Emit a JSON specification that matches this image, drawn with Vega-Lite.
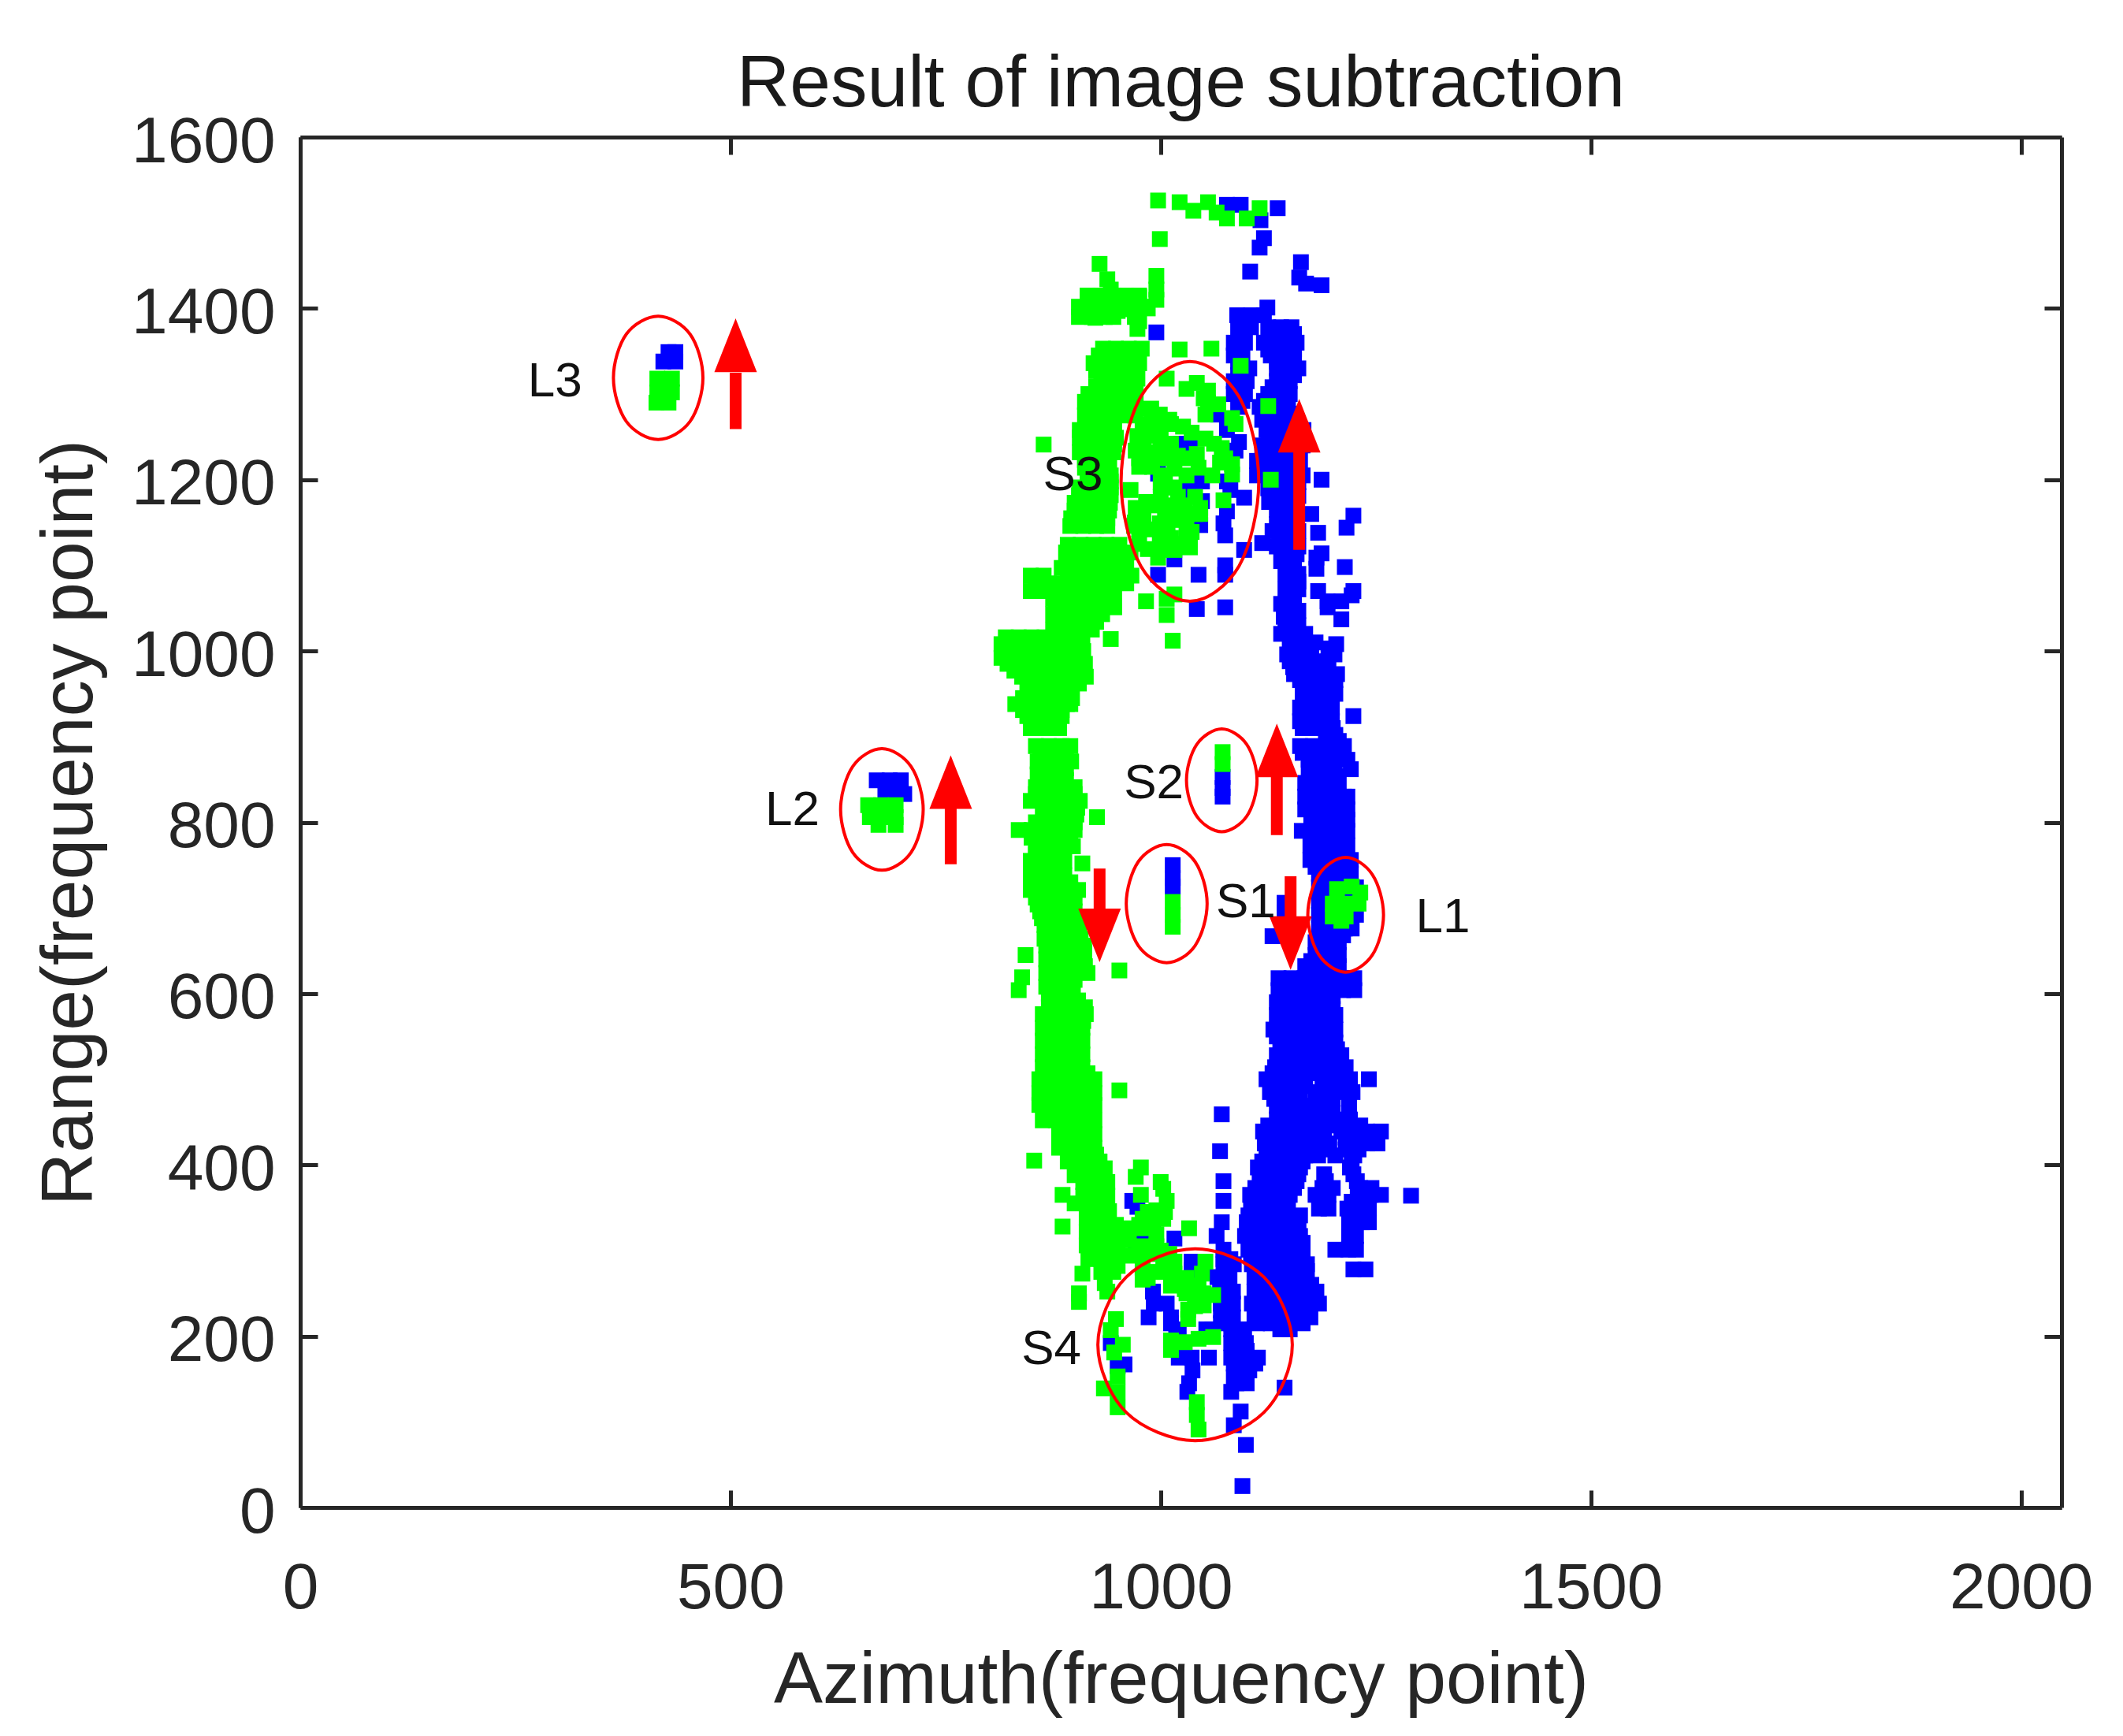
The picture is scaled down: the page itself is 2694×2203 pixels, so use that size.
{"$schema":"https://vega.github.io/schema/vega-lite/v6.json","width":2235,"height":1739,"autosize":{"type":"none"},"padding":{"left":381,"top":174,"right":78,"bottom":290},"background":"white","title":{"text":"Result of image subtraction","fontSize":93,"font":"Liberation Sans","fontWeight":"normal","color":"#1a1a1a","anchor":"middle","offset":-16,"limit":0},"config":{"view":{"stroke":null},"axis":{"grid":false,"domainColor":"#262626","domainWidth":5,"tickColor":"#262626","tickWidth":5,"tickSize":-22,"labelFont":"Liberation Sans","labelFontSize":82,"labelColor":"#262626","labelFlush":false,"labelOverlap":false,"labelLimit":1000,"titleFont":"Liberation Sans","titleFontSize":93,"titleFontWeight":"normal","titleColor":"#262626","titleLimit":2000,"format":"d"}},"datasets":{
"blue":[{"x":1077,"y":1521},{"x":1093,"y":1521},{"x":1136,"y":1517},{"x":1116,"y":1503},{"x":1120,"y":1482},{"x":1115,"y":1471},{"x":1163,"y":1454},{"x":1161,"y":1436},{"x":1169,"y":1429},{"x":1187,"y":1427},{"x":1104,"y":1443},{"x":995,"y":1372},{"x":1124,"y":1401},{"x":1089,"y":1392},{"x":1105,"y":1392},{"x":1120,"y":1392},{"x":1090,"y":1378},{"x":1105,"y":1378},{"x":1125,"y":1378},{"x":1140,"y":1378},{"x":1152,"y":1378},{"x":1085,"y":1360},{"x":1098,"y":1360},{"x":1120,"y":1360},{"x":1135,"y":1360},{"x":1150,"y":1360},{"x":1158,"y":1360},{"x":1085,"y":1345},{"x":1095,"y":1345},{"x":1128,"y":1345},{"x":1142,"y":1345},{"x":1155,"y":1345},{"x":1092,"y":1330},{"x":1103,"y":1330},{"x":1135,"y":1330},{"x":1150,"y":1330},{"x":1160,"y":1330},{"x":1085,"y":1315},{"x":1100,"y":1315},{"x":1135,"y":1315},{"x":1150,"y":1315},{"x":1085,"y":1300},{"x":1098,"y":1300},{"x":1125,"y":1300},{"x":1140,"y":1300},{"x":1150,"y":1300},{"x":1090,"y":1285},{"x":1115,"y":1285},{"x":1130,"y":1285},{"x":1145,"y":1285},{"x":1118,"y":1270},{"x":1135,"y":1270},{"x":1150,"y":1270},{"x":1067,"y":1276},{"x":1077,"y":1258},{"x":1091,"y":1244},{"x":1087,"y":1234},{"x":1024,"y":1242},{"x":1034,"y":1242},{"x":997,"y":1207},{"x":1032,"y":1198},{"x":1048,"y":1198},{"x":1077,"y":1198},{"x":1032,"y":1184},{"x":1081,"y":1188},{"x":1097,"y":1179},{"x":1048,"y":1175},{"x":1077,"y":1163},{"x":1046,"y":1147},{"x":1073,"y":1149},{"x":1075,"y":1135},{"x":1097,"y":1118},{"x":1118,"y":1126},{"x":1016,"y":1107},{"x":997,"y":1089},{"x":1044,"y":1089},{"x":1075,"y":1100},{"x":1075,"y":1089},{"x":1042,"y":1049},{"x":1075,"y":1051},{"x":1123,"y":1258},{"x":1138,"y":1258},{"x":1153,"y":1258},{"x":1166,"y":1258},{"x":1118,"y":1240},{"x":1135,"y":1240},{"x":1150,"y":1240},{"x":1165,"y":1240},{"x":1112,"y":1222},{"x":1130,"y":1222},{"x":1148,"y":1222},{"x":1162,"y":1222},{"x":1112,"y":1205},{"x":1130,"y":1205},{"x":1150,"y":1205},{"x":1165,"y":1205},{"x":1187,"y":1200},{"x":1125,"y":1190},{"x":1140,"y":1190},{"x":1155,"y":1190},{"x":1126,"y":1174},{"x":1140,"y":1172},{"x":1155,"y":1172},{"x":1140,"y":1157},{"x":1155,"y":1157},{"x":1175,"y":1160},{"x":1224,"y":1158},{"x":1216,"y":1144},{"x":1183,"y":1138},{"x":1130,"y":1140},{"x":1145,"y":1140},{"x":1160,"y":1140},{"x":1135,"y":1122},{"x":1150,"y":1122},{"x":1160,"y":1122},{"x":1140,"y":1105},{"x":1155,"y":1105},{"x":1181,"y":1109},{"x":1187,"y":1114},{"x":1214,"y":1098},{"x":1145,"y":1090},{"x":1160,"y":1090},{"x":1181,"y":1096},{"x":1145,"y":1072},{"x":1160,"y":1072},{"x":1140,"y":1055},{"x":1155,"y":1055},{"x":1183,"y":1070},{"x":1224,"y":1070},{"x":1194,"y":1058},{"x":1210,"y":1058},{"x":1210,"y":1037},{"x":1194,"y":1051},{"x":1222,"y":1065},{"x":1143,"y":1040},{"x":1155,"y":1040},{"x":1140,"y":1020},{"x":1155,"y":1020},{"x":1168,"y":1020},{"x":1204,"y":1008},{"x":1147,"y":996},{"x":1162,"y":996},{"x":1174,"y":996},{"x":1202,"y":996},{"x":1154,"y":981},{"x":1174,"y":981},{"x":1162,"y":966},{"x":1177,"y":966},{"x":1192,"y":966},{"x":1203,"y":966},{"x":1166,"y":950},{"x":1181,"y":950},{"x":1196,"y":950},{"x":1203,"y":950},{"x":1162,"y":934},{"x":1177,"y":934},{"x":1192,"y":934},{"x":1199,"y":934},{"x":1224,"y":924},{"x":1162,"y":918},{"x":1177,"y":918},{"x":1192,"y":918},{"x":1199,"y":918},{"x":1192,"y":902},{"x":1203,"y":902},{"x":1162,"y":889},{"x":1177,"y":889},{"x":1192,"y":889},{"x":1207,"y":889},{"x":1213,"y":889},{"x":1172,"y":873},{"x":1187,"y":873},{"x":1202,"y":873},{"x":1217,"y":873},{"x":1172,"y":862},{"x":1187,"y":862},{"x":1202,"y":862},{"x":1221,"y":862},{"x":1168,"y":846},{"x":1183,"y":846},{"x":1198,"y":846},{"x":1207,"y":846},{"x":1168,"y":830},{"x":1183,"y":830},{"x":1198,"y":830},{"x":1213,"y":830},{"x":1217,"y":830},{"x":1168,"y":815},{"x":1183,"y":815},{"x":1198,"y":815},{"x":1213,"y":815},{"x":1217,"y":815},{"x":1192,"y":803},{"x":1207,"y":803},{"x":1217,"y":803},{"x":1164,"y":790},{"x":1179,"y":790},{"x":1194,"y":790},{"x":1209,"y":790},{"x":1217,"y":790},{"x":1174,"y":773},{"x":1189,"y":773},{"x":1204,"y":773},{"x":1217,"y":773},{"x":1174,"y":756},{"x":1189,"y":756},{"x":1204,"y":756},{"x":1221,"y":756},{"x":1184,"y":740},{"x":1199,"y":740},{"x":1214,"y":740},{"x":1221,"y":740},{"x":1184,"y":724},{"x":1199,"y":724},{"x":1214,"y":724},{"x":1227,"y":724},{"x":1184,"y":708},{"x":1199,"y":708},{"x":1214,"y":708},{"x":1227,"y":708},{"x":1184,"y":692},{"x":1199,"y":692},{"x":1214,"y":692},{"x":1227,"y":692},{"x":1184,"y":676},{"x":1199,"y":676},{"x":1214,"y":676},{"x":1222,"y":676},{"x":1130,"y":667},{"x":1144,"y":706},{"x":1144,"y":695},{"x":1180,"y":660},{"x":1195,"y":660},{"x":1207,"y":660},{"x":1180,"y":645},{"x":1195,"y":645},{"x":1207,"y":645},{"x":1168,"y":632},{"x":1183,"y":632},{"x":1198,"y":632},{"x":1207,"y":632},{"x":1137,"y":618},{"x":1152,"y":618},{"x":1167,"y":618},{"x":1182,"y":618},{"x":1197,"y":618},{"x":1212,"y":618},{"x":1225,"y":618},{"x":1137,"y":604},{"x":1152,"y":604},{"x":1167,"y":604},{"x":1182,"y":604},{"x":1197,"y":604},{"x":1212,"y":604},{"x":1225,"y":604},{"x":1135,"y":590},{"x":1150,"y":590},{"x":1165,"y":590},{"x":1180,"y":590},{"x":1195,"y":590},{"x":1135,"y":575},{"x":1150,"y":575},{"x":1165,"y":575},{"x":1180,"y":575},{"x":1195,"y":575},{"x":1203,"y":575},{"x":1131,"y":558},{"x":1146,"y":558},{"x":1161,"y":558},{"x":1176,"y":558},{"x":1191,"y":558},{"x":1203,"y":558},{"x":1139,"y":543},{"x":1154,"y":543},{"x":1169,"y":543},{"x":1184,"y":543},{"x":1203,"y":543},{"x":1135,"y":528},{"x":1150,"y":528},{"x":1165,"y":528},{"x":1180,"y":528},{"x":1195,"y":528},{"x":1210,"y":528},{"x":1133,"y":514},{"x":1148,"y":514},{"x":1163,"y":514},{"x":1178,"y":514},{"x":1193,"y":514},{"x":1208,"y":514},{"x":1215,"y":514},{"x":1123,"y":500},{"x":1138,"y":500},{"x":1153,"y":500},{"x":1168,"y":500},{"x":1190,"y":500},{"x":1205,"y":500},{"x":1220,"y":500},{"x":1242,"y":500},{"x":1127,"y":485},{"x":1142,"y":485},{"x":1157,"y":485},{"x":1180,"y":485},{"x":1195,"y":485},{"x":1210,"y":485},{"x":1223,"y":485},{"x":1135,"y":469},{"x":1150,"y":469},{"x":1165,"y":469},{"x":1180,"y":469},{"x":1195,"y":469},{"x":1219,"y":469},{"x":1071,"y":459},{"x":1135,"y":453},{"x":1150,"y":453},{"x":1165,"y":453},{"x":1185,"y":453},{"x":1205,"y":453},{"x":1220,"y":453},{"x":1119,"y":439},{"x":1134,"y":439},{"x":1149,"y":439},{"x":1164,"y":439},{"x":1175,"y":439},{"x":1190,"y":439},{"x":1210,"y":439},{"x":1225,"y":439},{"x":1240,"y":439},{"x":1256,"y":439},{"x":1121,"y":425},{"x":1136,"y":425},{"x":1151,"y":425},{"x":1166,"y":425},{"x":1181,"y":425},{"x":1196,"y":425},{"x":1225,"y":425},{"x":1240,"y":425},{"x":1252,"y":425},{"x":1069,"y":416},{"x":1123,"y":411},{"x":1138,"y":411},{"x":1153,"y":411},{"x":1168,"y":411},{"x":1183,"y":411},{"x":1203,"y":411},{"x":1225,"y":411},{"x":1113,"y":397},{"x":1128,"y":397},{"x":1143,"y":397},{"x":1162,"y":397},{"x":1220,"y":397},{"x":1117,"y":381},{"x":1132,"y":381},{"x":1147,"y":381},{"x":1158,"y":381},{"x":1192,"y":381},{"x":1228,"y":381},{"x":1073,"y":381},{"x":1104,"y":365},{"x":1119,"y":365},{"x":1134,"y":365},{"x":1150,"y":365},{"x":1180,"y":365},{"x":1195,"y":365},{"x":1229,"y":365},{"x":1244,"y":365},{"x":1256,"y":365},{"x":1291,"y":364},{"x":1073,"y":358},{"x":1106,"y":349},{"x":1121,"y":349},{"x":1136,"y":349},{"x":1142,"y":349},{"x":1184,"y":349},{"x":1195,"y":349},{"x":1217,"y":349},{"x":1232,"y":349},{"x":1242,"y":349},{"x":1100,"y":333},{"x":1115,"y":333},{"x":1130,"y":333},{"x":1145,"y":333},{"x":1160,"y":333},{"x":1219,"y":333},{"x":1234,"y":333},{"x":1242,"y":333},{"x":1071,"y":333},{"x":1098,"y":317},{"x":1113,"y":317},{"x":1128,"y":317},{"x":1143,"y":317},{"x":1162,"y":317},{"x":1219,"y":317},{"x":1227,"y":317},{"x":1065,"y":317},{"x":1102,"y":301},{"x":1117,"y":301},{"x":1132,"y":301},{"x":1147,"y":301},{"x":1162,"y":301},{"x":1203,"y":301},{"x":1218,"y":301},{"x":1227,"y":301},{"x":1073,"y":301},{"x":1106,"y":284},{"x":1121,"y":284},{"x":1136,"y":284},{"x":1151,"y":284},{"x":1170,"y":284},{"x":1073,"y":284},{"x":1085,"y":284},{"x":1224,"y":278},{"x":1238,"y":278},{"x":1066,"y":269},{"x":1080,"y":269},{"x":1109,"y":269},{"x":1124,"y":269},{"x":1139,"y":269},{"x":1150,"y":269},{"x":1069,"y":252},{"x":1084,"y":252},{"x":1109,"y":252},{"x":1124,"y":252},{"x":1139,"y":252},{"x":1154,"y":252},{"x":1169,"y":252},{"x":1181,"y":252},{"x":991,"y":252},{"x":992,"y":238},{"x":1007,"y":238},{"x":1070,"y":238},{"x":1084,"y":238},{"x":1106,"y":238},{"x":1121,"y":238},{"x":1136,"y":238},{"x":1151,"y":238},{"x":1166,"y":238},{"x":1184,"y":238},{"x":986,"y":222},{"x":1012,"y":222},{"x":1074,"y":222},{"x":1084,"y":222},{"x":1109,"y":222},{"x":1124,"y":222},{"x":1139,"y":222},{"x":1154,"y":222},{"x":1174,"y":222},{"x":1021,"y":208},{"x":1053,"y":208},{"x":1060,"y":208},{"x":1082,"y":208},{"x":1097,"y":208},{"x":1139,"y":208},{"x":1150,"y":208},{"x":1082,"y":192},{"x":1099,"y":192},{"x":1021,"y":175},{"x":1036,"y":175},{"x":1056,"y":175},{"x":1082,"y":175},{"x":1097,"y":175},{"x":1113,"y":175},{"x":1037,"y":160},{"x":1090,"y":160},{"x":1103,"y":160},{"x":1033,"y":145},{"x":1088,"y":145},{"x":1100,"y":145},{"x":1031,"y":135},{"x":1082,"y":135},{"x":1144,"y":140},{"x":1093,"y":112},{"x":1085,"y":96},{"x":1099,"y":73},{"x":1095,"y":25},{"x":967,"y":358},{"x":973,"y":351},{"x":991,"y":323},{"x":1016,"y":314},{"x":971,"y":310},{"x":983,"y":315},{"x":942,"y":192},{"x":950,"y":165},{"x":958,"y":167},{"x":1036,"y":287},{"x":1036,"y":277},{"x":1073,"y":290},{"x":1081,"y":290},{"x":1014,"y":750},{"x":1014,"y":735},{"x":1014,"y":725},{"x":1072,"y":853},{"x":1072,"y":840},{"x":1072,"y":830},{"x":422,"y":1338},{"x":436,"y":1338},{"x":436,"y":1349},{"x":428,"y":1349},{"x":670,"y":849},{"x":685,"y":849},{"x":698,"y":849},{"x":680,"y":836},{"x":695,"y":836},{"x":702,"y":833},
{"x":1140,"y":566},{"x":1155,"y":566},{"x":1170,"y":566},{"x":1185,"y":566},{"x":1200,"y":566},{"x":1135,"y":550},{"x":1150,"y":550},{"x":1165,"y":550},{"x":1180,"y":550},{"x":1195,"y":550},{"x":1145,"y":535},{"x":1160,"y":535},{"x":1175,"y":535},{"x":1190,"y":535},{"x":1205,"y":535},{"x":1140,"y":521},{"x":1155,"y":521},{"x":1170,"y":521},{"x":1185,"y":521},{"x":1200,"y":521},{"x":1130,"y":507},{"x":1145,"y":507},{"x":1160,"y":507},{"x":1175,"y":507},{"x":1197,"y":507},{"x":1212,"y":507},{"x":1135,"y":492},{"x":1150,"y":492},{"x":1165,"y":492},{"x":1188,"y":492},{"x":1203,"y":492},{"x":1217,"y":492},{"x":1132,"y":477},{"x":1147,"y":477},{"x":1162,"y":477},{"x":1185,"y":477},{"x":1200,"y":477},{"x":1140,"y":461},{"x":1155,"y":461},{"x":1170,"y":461},{"x":1190,"y":461},{"x":1200,"y":461},{"x":1125,"y":446},{"x":1140,"y":446},{"x":1155,"y":446},{"x":1170,"y":446},{"x":1200,"y":446},{"x":1215,"y":446},{"x":1232,"y":446},{"x":1127,"y":432},{"x":1142,"y":432},{"x":1157,"y":432},{"x":1172,"y":432},{"x":1187,"y":432},{"x":1215,"y":432},{"x":1230,"y":432},{"x":1245,"y":432},{"x":1128,"y":418},{"x":1143,"y":418},{"x":1158,"y":418},{"x":1173,"y":418},{"x":1188,"y":418},{"x":1215,"y":418},{"x":1230,"y":418},{"x":1118,"y":404},{"x":1133,"y":404},{"x":1148,"y":404},{"x":1165,"y":404},{"x":1222,"y":404},{"x":1115,"y":389},{"x":1130,"y":389},{"x":1145,"y":389},{"x":1160,"y":389},{"x":1190,"y":389},{"x":1224,"y":389},{"x":1110,"y":373},{"x":1125,"y":373},{"x":1140,"y":373},{"x":1155,"y":373},{"x":1188,"y":373},{"x":1200,"y":373},{"x":1232,"y":373},{"x":1245,"y":373},{"x":1105,"y":357},{"x":1120,"y":357},{"x":1135,"y":357},{"x":1148,"y":357},{"x":1190,"y":357},{"x":1222,"y":357},{"x":1238,"y":357},{"x":1102,"y":341},{"x":1117,"y":341},{"x":1132,"y":341},{"x":1147,"y":341},{"x":1162,"y":341},{"x":1225,"y":341},{"x":1240,"y":341},{"x":1100,"y":325},{"x":1115,"y":325},{"x":1130,"y":325},{"x":1145,"y":325},{"x":1160,"y":325},{"x":1105,"y":309},{"x":1120,"y":309},{"x":1135,"y":309},{"x":1150,"y":309},{"x":1165,"y":309},{"x":1222,"y":309},{"x":1105,"y":293},{"x":1120,"y":293},{"x":1135,"y":293},{"x":1150,"y":293},{"x":1165,"y":293},{"x":1110,"y":276},{"x":1125,"y":276},{"x":1140,"y":276},{"x":1155,"y":276},{"x":1170,"y":276},{"x":1115,"y":260},{"x":1130,"y":260},{"x":1145,"y":260},{"x":1160,"y":260},{"x":1175,"y":260},{"x":1110,"y":245},{"x":1125,"y":245},{"x":1140,"y":245},{"x":1155,"y":245},{"x":1175,"y":245},{"x":1070,"y":230},{"x":1082,"y":230},{"x":1115,"y":230},{"x":1130,"y":230},{"x":1145,"y":230},{"x":1160,"y":230},{"x":1012,"y":215},{"x":1070,"y":215},{"x":1082,"y":215},{"x":1112,"y":215},{"x":1128,"y":215},{"x":1145,"y":215},{"x":1165,"y":215},{"x":1084,"y":200},{"x":1095,"y":200},{"x":1018,"y":200},{"x":1060,"y":200},{"x":1085,"y":183},{"x":1100,"y":183},{"x":1085,"y":168},{"x":1100,"y":168},{"x":1110,"y":168},{"x":1085,"y":152},{"x":1100,"y":152},{"x":1125,"y":1250},{"x":1140,"y":1250},{"x":1155,"y":1250},{"x":1120,"y":1232},{"x":1135,"y":1232},{"x":1150,"y":1232},{"x":1120,"y":1214},{"x":1135,"y":1214},{"x":1150,"y":1214},{"x":1130,"y":1197},{"x":1145,"y":1197},{"x":1160,"y":1197},{"x":1130,"y":1181},{"x":1145,"y":1181},{"x":1160,"y":1181},{"x":1135,"y":1165},{"x":1150,"y":1165},{"x":1135,"y":1148},{"x":1150,"y":1148},{"x":1138,"y":1131},{"x":1152,"y":1131},{"x":1145,"y":1113},{"x":1158,"y":1113},{"x":1150,"y":1098},{"x":1150,"y":1081},{"x":1160,"y":1081},{"x":1150,"y":1063},{"x":1148,"y":1047},{"x":1160,"y":1047},{"x":1145,"y":1030},{"x":1160,"y":1030},{"x":1150,"y":1010},{"x":1165,"y":1010},{"x":1180,"y":1010},{"x":1160,"y":1003},{"x":1175,"y":1003},{"x":1195,"y":1003},{"x":1150,"y":988},{"x":1165,"y":988},{"x":1180,"y":988},{"x":1195,"y":988},{"x":1155,"y":973},{"x":1170,"y":973},{"x":1190,"y":973},{"x":1205,"y":973},{"x":1165,"y":958},{"x":1180,"y":958},{"x":1195,"y":958},{"x":1165,"y":942},{"x":1180,"y":942},{"x":1195,"y":942},{"x":1165,"y":926},{"x":1185,"y":926},{"x":1165,"y":910},{"x":1175,"y":910},{"x":1190,"y":910},{"x":1200,"y":910},{"x":1195,"y":895},{"x":1207,"y":895},{"x":1165,"y":881},{"x":1180,"y":881},{"x":1195,"y":881},{"x":1210,"y":881},{"x":1175,"y":854},{"x":1190,"y":854},{"x":1205,"y":854},{"x":1175,"y":838},{"x":1190,"y":838},{"x":1205,"y":838},{"x":1175,"y":822},{"x":1190,"y":822},{"x":1205,"y":822},{"x":1175,"y":797},{"x":1200,"y":797},{"x":1180,"y":781},{"x":1195,"y":781},{"x":1210,"y":781},{"x":1180,"y":765},{"x":1195,"y":765},{"x":1210,"y":765},{"x":1180,"y":748},{"x":1195,"y":748},{"x":1210,"y":748},{"x":1190,"y":732},{"x":1205,"y":732},{"x":1190,"y":716},{"x":1205,"y":716},{"x":1220,"y":716},{"x":1190,"y":700},{"x":1205,"y":700},{"x":1220,"y":700},{"x":1190,"y":684},{"x":1205,"y":684},{"x":1220,"y":684},{"x":1185,"y":668},{"x":1200,"y":668},{"x":1212,"y":668},{"x":1185,"y":652},{"x":1200,"y":652},{"x":1175,"y":638},{"x":1190,"y":638},{"x":1203,"y":638},{"x":1145,"y":611},{"x":1160,"y":611},{"x":1175,"y":611},{"x":1190,"y":611},{"x":1205,"y":611},{"x":1220,"y":611},{"x":1140,"y":597},{"x":1155,"y":597},{"x":1170,"y":597},{"x":1185,"y":597},{"x":1200,"y":597},{"x":1140,"y":582},{"x":1155,"y":582},{"x":1170,"y":582},{"x":1185,"y":582},{"x":1200,"y":582},{"x":1095,"y":1370},{"x":1130,"y":1370},{"x":1145,"y":1370},{"x":1155,"y":1370},{"x":1090,"y":1352},{"x":1125,"y":1352},{"x":1140,"y":1352},{"x":1155,"y":1352},{"x":1090,"y":1338},{"x":1135,"y":1338},{"x":1150,"y":1338},{"x":1090,"y":1322},{"x":1100,"y":1322},{"x":1140,"y":1322},{"x":1155,"y":1322},{"x":1090,"y":1308},{"x":1130,"y":1308},{"x":1145,"y":1308},{"x":1095,"y":1292},{"x":1120,"y":1292},{"x":1135,"y":1292},{"x":1148,"y":1292},{"x":1125,"y":1277},{"x":1140,"y":1277},{"x":1150,"y":1277}],
"green":[{"x":997,"y":1526},{"x":1022,"y":1524},{"x":1038,"y":1514},{"x":1055,"y":1524},{"x":1065,"y":1512},{"x":1077,"y":1505},{"x":1100,"y":1505},{"x":1115,"y":1517},{"x":999,"y":1481},{"x":929,"y":1452},{"x":938,"y":1434},{"x":942,"y":1422},{"x":916,"y":1410},{"x":930,"y":1410},{"x":946,"y":1410},{"x":963,"y":1410},{"x":975,"y":1413},{"x":995,"y":1438},{"x":995,"y":1422},{"x":995,"y":1410},{"x":907,"y":1397},{"x":924,"y":1389},{"x":963,"y":1399},{"x":975,"y":1385},{"x":973,"y":1376},{"x":915,"y":1395},{"x":935,"y":1397},{"x":950,"y":1397},{"x":985,"y":1400},{"x":933,"y":1353},{"x":948,"y":1353},{"x":963,"y":1353},{"x":978,"y":1353},{"x":922,"y":1336},{"x":937,"y":1336},{"x":952,"y":1336},{"x":967,"y":1336},{"x":975,"y":1336},{"x":931,"y":1318},{"x":946,"y":1318},{"x":961,"y":1318},{"x":973,"y":1318},{"x":916,"y":1300},{"x":931,"y":1300},{"x":946,"y":1300},{"x":961,"y":1300},{"x":971,"y":1300},{"x":916,"y":1283},{"x":931,"y":1283},{"x":946,"y":1283},{"x":961,"y":1283},{"x":971,"y":1283},{"x":906,"y":1258},{"x":921,"y":1258},{"x":936,"y":1258},{"x":946,"y":1258},{"x":912,"y":1241},{"x":927,"y":1241},{"x":942,"y":1241},{"x":946,"y":1241},{"x":912,"y":1223},{"x":927,"y":1223},{"x":940,"y":1223},{"x":918,"y":1205},{"x":933,"y":1205},{"x":942,"y":1205},{"x":906,"y":1191},{"x":921,"y":1191},{"x":936,"y":1191},{"x":942,"y":1191},{"x":900,"y":1173},{"x":915,"y":1173},{"x":930,"y":1173},{"x":941,"y":1173},{"x":896,"y":1155},{"x":911,"y":1155},{"x":926,"y":1155},{"x":938,"y":1155},{"x":892,"y":1124},{"x":907,"y":1124},{"x":922,"y":1124},{"x":937,"y":1124},{"x":952,"y":1124},{"x":892,"y":1106},{"x":907,"y":1106},{"x":922,"y":1106},{"x":937,"y":1106},{"x":952,"y":1106},{"x":849,"y":1088},{"x":864,"y":1088},{"x":892,"y":1088},{"x":907,"y":1088},{"x":922,"y":1088},{"x":937,"y":1088},{"x":952,"y":1088},{"x":966,"y":1088},{"x":849,"y":1070},{"x":864,"y":1070},{"x":880,"y":1070},{"x":895,"y":1070},{"x":910,"y":1070},{"x":925,"y":1070},{"x":940,"y":1070},{"x":946,"y":1070},{"x":878,"y":1052},{"x":893,"y":1052},{"x":908,"y":1052},{"x":923,"y":1052},{"x":938,"y":1052},{"x":946,"y":1052},{"x":878,"y":1034},{"x":893,"y":1034},{"x":908,"y":1034},{"x":925,"y":1034},{"x":820,"y":1016},{"x":835,"y":1016},{"x":850,"y":1016},{"x":865,"y":1016},{"x":880,"y":1016},{"x":895,"y":1016},{"x":909,"y":1016},{"x":820,"y":1000},{"x":835,"y":1000},{"x":850,"y":1000},{"x":865,"y":1000},{"x":880,"y":1000},{"x":895,"y":1000},{"x":910,"y":1000},{"x":822,"y":985},{"x":837,"y":985},{"x":852,"y":985},{"x":867,"y":985},{"x":882,"y":985},{"x":897,"y":985},{"x":912,"y":985},{"x":839,"y":970},{"x":854,"y":970},{"x":869,"y":970},{"x":884,"y":970},{"x":899,"y":970},{"x":913,"y":970},{"x":855,"y":953},{"x":870,"y":953},{"x":885,"y":953},{"x":891,"y":953},{"x":831,"y":938},{"x":846,"y":938},{"x":861,"y":938},{"x":876,"y":938},{"x":891,"y":938},{"x":895,"y":938},{"x":845,"y":924},{"x":860,"y":924},{"x":875,"y":924},{"x":885,"y":924},{"x":849,"y":910},{"x":864,"y":910},{"x":882,"y":910},{"x":855,"y":889},{"x":870,"y":889},{"x":885,"y":889},{"x":895,"y":889},{"x":857,"y":871},{"x":872,"y":871},{"x":887,"y":871},{"x":896,"y":871},{"x":857,"y":856},{"x":872,"y":856},{"x":885,"y":856},{"x":855,"y":841},{"x":870,"y":841},{"x":885,"y":841},{"x":900,"y":841},{"x":849,"y":825},{"x":864,"y":825},{"x":879,"y":825},{"x":894,"y":825},{"x":906,"y":825},{"x":863,"y":809},{"x":878,"y":809},{"x":893,"y":809},{"x":902,"y":809},{"x":926,"y":806},{"x":835,"y":791},{"x":850,"y":791},{"x":865,"y":791},{"x":880,"y":791},{"x":895,"y":791},{"x":900,"y":791},{"x":855,"y":772},{"x":870,"y":772},{"x":885,"y":772},{"x":898,"y":772},{"x":849,"y":755},{"x":864,"y":755},{"x":879,"y":755},{"x":888,"y":755},{"x":909,"y":752},{"x":849,"y":738},{"x":864,"y":738},{"x":879,"y":738},{"x":888,"y":738},{"x":849,"y":721},{"x":864,"y":721},{"x":879,"y":721},{"x":895,"y":721},{"x":904,"y":721},{"x":857,"y":704},{"x":872,"y":704},{"x":887,"y":704},{"x":898,"y":704},{"x":862,"y":688},{"x":877,"y":688},{"x":892,"y":688},{"x":900,"y":688},{"x":867,"y":672},{"x":882,"y":672},{"x":897,"y":672},{"x":904,"y":672},{"x":867,"y":656},{"x":882,"y":656},{"x":897,"y":656},{"x":911,"y":656},{"x":843,"y":645},{"x":867,"y":640},{"x":882,"y":640},{"x":897,"y":640},{"x":911,"y":640},{"x":867,"y":624},{"x":882,"y":624},{"x":897,"y":624},{"x":915,"y":624},{"x":952,"y":627},{"x":839,"y":619},{"x":835,"y":604},{"x":867,"y":608},{"x":882,"y":608},{"x":892,"y":608},{"x":871,"y":592},{"x":886,"y":592},{"x":904,"y":592},{"x":863,"y":576},{"x":878,"y":576},{"x":893,"y":576},{"x":913,"y":576},{"x":863,"y":560},{"x":878,"y":560},{"x":893,"y":560},{"x":909,"y":560},{"x":863,"y":545},{"x":878,"y":545},{"x":893,"y":545},{"x":909,"y":545},{"x":863,"y":529},{"x":878,"y":529},{"x":893,"y":529},{"x":909,"y":529},{"x":863,"y":514},{"x":878,"y":514},{"x":893,"y":514},{"x":909,"y":514},{"x":859,"y":500},{"x":874,"y":500},{"x":889,"y":500},{"x":904,"y":500},{"x":923,"y":500},{"x":859,"y":484},{"x":874,"y":484},{"x":889,"y":484},{"x":904,"y":484},{"x":923,"y":484},{"x":952,"y":487},{"x":859,"y":470},{"x":874,"y":470},{"x":889,"y":470},{"x":904,"y":470},{"x":923,"y":470},{"x":863,"y":452},{"x":878,"y":452},{"x":893,"y":452},{"x":908,"y":452},{"x":923,"y":452},{"x":882,"y":436},{"x":897,"y":436},{"x":912,"y":436},{"x":923,"y":436},{"x":882,"y":420},{"x":897,"y":420},{"x":912,"y":420},{"x":923,"y":420},{"x":853,"y":405},{"x":892,"y":404},{"x":907,"y":404},{"x":929,"y":404},{"x":900,"y":388},{"x":915,"y":388},{"x":933,"y":388},{"x":912,"y":372},{"x":925,"y":372},{"x":935,"y":372},{"x":886,"y":365},{"x":900,"y":355},{"x":915,"y":355},{"x":930,"y":355},{"x":937,"y":355},{"x":886,"y":328},{"x":914,"y":338},{"x":929,"y":338},{"x":935,"y":338},{"x":914,"y":322},{"x":929,"y":322},{"x":940,"y":322},{"x":914,"y":306},{"x":929,"y":306},{"x":945,"y":306},{"x":916,"y":290},{"x":931,"y":290},{"x":945,"y":290},{"x":931,"y":275},{"x":945,"y":275},{"x":909,"y":273},{"x":935,"y":262},{"x":977,"y":397},{"x":971,"y":386},{"x":977,"y":365},{"x":1003,"y":372},{"x":1007,"y":358},{"x":995,"y":347},{"x":979,"y":337},{"x":1003,"y":337},{"x":963,"y":326},{"x":979,"y":326},{"x":995,"y":319},{"x":1033,"y":326},{"x":963,"y":312},{"x":979,"y":305},{"x":995,"y":305},{"x":967,"y":294},{"x":979,"y":280},{"x":979,"y":266},{"x":1003,"y":287},{"x":1016,"y":287},{"x":1016,"y":273},{"x":1012,"y":259},{"x":1028,"y":255},{"x":1052,"y":287},{"x":1048,"y":273},{"x":1044,"y":259},{"x":1061,"y":248},{"x":1040,"y":245},{"x":1032,"y":231},{"x":1050,"y":236},{"x":1032,"y":220},{"x":938,"y":252},{"x":905,"y":250},{"x":905,"y":240},{"x":948,"y":220},{"x":942,"y":207},{"x":956,"y":190},{"x":946,"y":181},{"x":950,"y":153},{"x":950,"y":135},{"x":934,"y":139},{"x":950,"y":117},{"x":1012,"y":195},{"x":1012,"y":184},{"x":1028,"y":193},{"x":1044,"y":197},{"x":1061,"y":199},{"x":1042,"y":123},{"x":1042,"y":108},{"x":1044,"y":91},{"x":1007,"y":1318},{"x":1030,"y":1306},{"x":1042,"y":1313},{"x":1055,"y":1304},{"x":1055,"y":1290},{"x":1067,"y":1288},{"x":1052,"y":1276},{"x":1083,"y":1272},{"x":1087,"y":1265},{"x":989,"y":1283},{"x":999,"y":1276},{"x":979,"y":1265},{"x":995,"y":1265},{"x":1012,"y":1265},{"x":1026,"y":1262},{"x":973,"y":1251},{"x":997,"y":1251},{"x":1036,"y":1255},{"x":1052,"y":1248},{"x":1071,"y":1237},{"x":971,"y":1234},{"x":987,"y":1232},{"x":1003,"y":1232},{"x":1020,"y":1228},{"x":1042,"y":1230},{"x":1069,"y":1220},{"x":1083,"y":1218},{"x":1083,"y":1206},{"x":1044,"y":1214},{"x":1016,"y":1213},{"x":1005,"y":1191},{"x":1016,"y":1191},{"x":965,"y":1188},{"x":983,"y":1174},{"x":971,"y":1167},{"x":995,"y":1170},{"x":1012,"y":1170},{"x":1028,"y":1170},{"x":1046,"y":1167},{"x":1046,"y":1160},{"x":969,"y":1146},{"x":999,"y":1149},{"x":1016,"y":1153},{"x":999,"y":1135},{"x":1012,"y":1132},{"x":1036,"y":1139},{"x":985,"y":1119},{"x":999,"y":1118},{"x":1016,"y":1118},{"x":1034,"y":1121},{"x":997,"y":1109},{"x":1022,"y":1352},{"x":1059,"y":1353},{"x":1093,"y":1333},{"x":1125,"y":1286},{"x":1128,"y":1200},{"x":1073,"y":1176},{"x":864,"y":1241},{"x":983,"y":1058},{"x":1007,"y":1061},{"x":1007,"y":1042},{"x":1016,"y":1066},{"x":946,"y":1051},{"x":942,"y":1014},{"x":1014,"y":1012},{"x":1205,"y":722},{"x":1222,"y":725},{"x":1232,"y":718},{"x":1200,"y":705},{"x":1215,"y":705},{"x":1230,"y":705},{"x":1200,"y":690},{"x":1215,"y":690},{"x":1210,"y":685},{"x":1014,"y":707},{"x":1014,"y":692},{"x":1014,"y":678},{"x":1072,"y":882},{"x":1072,"y":868},{"x":415,"y":1318},{"x":432,"y":1318},{"x":415,"y":1302},{"x":432,"y":1302},{"x":414,"y":1290},{"x":428,"y":1290},{"x":660,"y":820},{"x":675,"y":820},{"x":692,"y":820},{"x":662,"y":806},{"x":677,"y":806},{"x":692,"y":806},{"x":672,"y":797},{"x":692,"y":797},
{"x":915,"y":1415},{"x":930,"y":1415},{"x":945,"y":1415},{"x":960,"y":1415},{"x":975,"y":1415},{"x":905,"y":1402},{"x":920,"y":1402},{"x":935,"y":1402},{"x":950,"y":1402},{"x":965,"y":1402},{"x":980,"y":1402},{"x":905,"y":1390},{"x":920,"y":1390},{"x":935,"y":1390},{"x":945,"y":1390},{"x":970,"y":1390},{"x":928,"y":1345},{"x":943,"y":1345},{"x":958,"y":1345},{"x":973,"y":1345},{"x":925,"y":1327},{"x":940,"y":1327},{"x":955,"y":1327},{"x":970,"y":1327},{"x":925,"y":1309},{"x":940,"y":1309},{"x":955,"y":1309},{"x":970,"y":1309},{"x":912,"y":1291},{"x":927,"y":1291},{"x":942,"y":1291},{"x":957,"y":1291},{"x":970,"y":1291},{"x":912,"y":1275},{"x":927,"y":1275},{"x":942,"y":1275},{"x":957,"y":1275},{"x":970,"y":1275},{"x":906,"y":1249},{"x":921,"y":1249},{"x":936,"y":1249},{"x":948,"y":1249},{"x":906,"y":1232},{"x":921,"y":1232},{"x":936,"y":1232},{"x":945,"y":1232},{"x":912,"y":1214},{"x":927,"y":1214},{"x":940,"y":1214},{"x":915,"y":1198},{"x":930,"y":1198},{"x":942,"y":1198},{"x":905,"y":1182},{"x":920,"y":1182},{"x":935,"y":1182},{"x":942,"y":1182},{"x":900,"y":1164},{"x":915,"y":1164},{"x":930,"y":1164},{"x":940,"y":1164},{"x":895,"y":1146},{"x":910,"y":1146},{"x":925,"y":1146},{"x":938,"y":1146},{"x":890,"y":1115},{"x":905,"y":1115},{"x":920,"y":1115},{"x":935,"y":1115},{"x":950,"y":1115},{"x":965,"y":1115},{"x":885,"y":1097},{"x":900,"y":1097},{"x":915,"y":1097},{"x":930,"y":1097},{"x":945,"y":1097},{"x":960,"y":1097},{"x":855,"y":1079},{"x":870,"y":1079},{"x":885,"y":1079},{"x":900,"y":1079},{"x":915,"y":1079},{"x":930,"y":1079},{"x":945,"y":1079},{"x":960,"y":1079},{"x":875,"y":1061},{"x":890,"y":1061},{"x":905,"y":1061},{"x":920,"y":1061},{"x":935,"y":1061},{"x":875,"y":1043},{"x":890,"y":1043},{"x":905,"y":1043},{"x":920,"y":1043},{"x":932,"y":1043},{"x":875,"y":1025},{"x":890,"y":1025},{"x":905,"y":1025},{"x":920,"y":1025},{"x":815,"y":1008},{"x":830,"y":1008},{"x":845,"y":1008},{"x":860,"y":1008},{"x":875,"y":1008},{"x":890,"y":1008},{"x":905,"y":1008},{"x":815,"y":992},{"x":830,"y":992},{"x":845,"y":992},{"x":860,"y":992},{"x":875,"y":992},{"x":890,"y":992},{"x":905,"y":992},{"x":830,"y":977},{"x":845,"y":977},{"x":860,"y":977},{"x":875,"y":977},{"x":890,"y":977},{"x":905,"y":977},{"x":845,"y":962},{"x":860,"y":962},{"x":875,"y":962},{"x":890,"y":962},{"x":905,"y":962},{"x":840,"y":945},{"x":855,"y":945},{"x":870,"y":945},{"x":885,"y":945},{"x":897,"y":945},{"x":840,"y":931},{"x":855,"y":931},{"x":870,"y":931},{"x":885,"y":931},{"x":850,"y":917},{"x":865,"y":917},{"x":880,"y":917},{"x":860,"y":880},{"x":875,"y":880},{"x":890,"y":880},{"x":860,"y":863},{"x":875,"y":863},{"x":890,"y":863},{"x":860,"y":849},{"x":875,"y":849},{"x":890,"y":849},{"x":855,"y":833},{"x":870,"y":833},{"x":885,"y":833},{"x":900,"y":833},{"x":865,"y":817},{"x":880,"y":817},{"x":895,"y":817},{"x":903,"y":817},{"x":855,"y":800},{"x":870,"y":800},{"x":885,"y":800},{"x":900,"y":800},{"x":850,"y":782},{"x":865,"y":782},{"x":880,"y":782},{"x":895,"y":782},{"x":855,"y":763},{"x":870,"y":763},{"x":885,"y":763},{"x":855,"y":746},{"x":870,"y":746},{"x":885,"y":746},{"x":855,"y":730},{"x":870,"y":730},{"x":885,"y":730},{"x":895,"y":730},{"x":855,"y":712},{"x":870,"y":712},{"x":885,"y":712},{"x":900,"y":712},{"x":860,"y":696},{"x":875,"y":696},{"x":890,"y":696},{"x":900,"y":696},{"x":865,"y":680},{"x":880,"y":680},{"x":895,"y":680},{"x":905,"y":680},{"x":865,"y":664},{"x":880,"y":664},{"x":895,"y":664},{"x":907,"y":664},{"x":870,"y":648},{"x":885,"y":648},{"x":900,"y":648},{"x":911,"y":648},{"x":870,"y":632},{"x":885,"y":632},{"x":900,"y":632},{"x":912,"y":632},{"x":870,"y":616},{"x":885,"y":616},{"x":900,"y":616},{"x":870,"y":600},{"x":885,"y":600},{"x":898,"y":600},{"x":870,"y":584},{"x":885,"y":584},{"x":900,"y":584},{"x":912,"y":584},{"x":865,"y":568},{"x":880,"y":568},{"x":895,"y":568},{"x":910,"y":568},{"x":870,"y":552},{"x":885,"y":552},{"x":900,"y":552},{"x":870,"y":537},{"x":885,"y":537},{"x":900,"y":537},{"x":870,"y":521},{"x":885,"y":521},{"x":900,"y":521},{"x":870,"y":507},{"x":885,"y":507},{"x":900,"y":507},{"x":915,"y":507},{"x":865,"y":492},{"x":880,"y":492},{"x":895,"y":492},{"x":915,"y":492},{"x":865,"y":477},{"x":880,"y":477},{"x":895,"y":477},{"x":915,"y":477},{"x":865,"y":461},{"x":880,"y":461},{"x":895,"y":461},{"x":915,"y":461},{"x":890,"y":444},{"x":905,"y":444},{"x":920,"y":444},{"x":890,"y":428},{"x":905,"y":428},{"x":920,"y":428},{"x":895,"y":412},{"x":910,"y":412},{"x":925,"y":412},{"x":905,"y":396},{"x":920,"y":396},{"x":935,"y":396},{"x":910,"y":380},{"x":925,"y":380},{"x":938,"y":380},{"x":910,"y":364},{"x":925,"y":364},{"x":938,"y":364},{"x":915,"y":346},{"x":930,"y":346},{"x":940,"y":346},{"x":920,"y":330},{"x":935,"y":330},{"x":948,"y":330},{"x":920,"y":314},{"x":935,"y":314},{"x":950,"y":314},{"x":920,"y":298},{"x":935,"y":298},{"x":950,"y":298},{"x":935,"y":282},{"x":950,"y":282},{"x":985,"y":1258},{"x":1000,"y":1258},{"x":980,"y":1242},{"x":1000,"y":1242},{"x":1012,"y":1242},{"x":1062,"y":1242},{"x":975,"y":1225},{"x":995,"y":1225},{"x":1010,"y":1225},{"x":1030,"y":1225},{"x":1075,"y":1225},{"x":1030,"y":1205},{"x":1005,"y":1205},{"x":1060,"y":1205},{"x":1000,"y":1180},{"x":1020,"y":1180},{"x":1040,"y":1180},{"x":980,"y":1160},{"x":1005,"y":1160},{"x":1025,"y":1160},{"x":1040,"y":1160},{"x":975,"y":1142},{"x":990,"y":1142},{"x":1008,"y":1142},{"x":1030,"y":1142},{"x":1005,"y":1125},{"x":1025,"y":1125},{"x":975,"y":1125},{"x":990,"y":1270},{"x":1010,"y":1270},{"x":1050,"y":1295},{"x":975,"y":1215},{"x":990,"y":1215},{"x":1000,"y":1197},{"x":970,"y":1150},{"x":1000,"y":380},{"x":985,"y":345},{"x":1005,"y":345},{"x":975,"y":330},{"x":990,"y":330},{"x":975,"y":296},{"x":985,"y":296},{"x":1010,"y":296},{"x":990,"y":275},{"x":1005,"y":275},{"x":1020,"y":260},{"x":985,"y":268},{"x":1030,"y":268},{"x":1050,"y":250},{"x":1030,"y":250},{"x":1040,"y":235},{"x":1000,"y":300}],
"ellipses":[{"n":"L3","o":1,"x":468,"y":1319},{"n":"L3","o":2,"x":453,"y":1370},{"n":"L3","o":3,"x":416,"y":1391},{"n":"L3","o":4,"x":379,"y":1370},{"n":"L3","o":5,"x":364,"y":1319},{"n":"L3","o":6,"x":379,"y":1268},{"n":"L3","o":7,"x":416,"y":1247},{"n":"L3","o":8,"x":453,"y":1268},{"n":"L2","o":1,"x":724,"y":815},{"n":"L2","o":2,"x":710,"y":865},{"n":"L2","o":3,"x":676,"y":886},{"n":"L2","o":4,"x":642,"y":865},{"n":"L2","o":5,"x":628,"y":815},{"n":"L2","o":6,"x":642,"y":765},{"n":"L2","o":7,"x":676,"y":744},{"n":"L2","o":8,"x":710,"y":765},{"n":"S3","o":1,"x":1114,"y":1198},{"n":"S3","o":2,"x":1091,"y":1297},{"n":"S3","o":3,"x":1034,"y":1338},{"n":"S3","o":4,"x":977,"y":1297},{"n":"S3","o":5,"x":954,"y":1198},{"n":"S3","o":6,"x":977,"y":1099},{"n":"S3","o":7,"x":1034,"y":1058},{"n":"S3","o":8,"x":1091,"y":1099},{"n":"S2","o":1,"x":1112,"y":849},{"n":"S2","o":2,"x":1100,"y":891},{"n":"S2","o":3,"x":1071,"y":909},{"n":"S2","o":4,"x":1042,"y":891},{"n":"S2","o":5,"x":1030,"y":849},{"n":"S2","o":6,"x":1042,"y":807},{"n":"S2","o":7,"x":1071,"y":789},{"n":"S2","o":8,"x":1100,"y":807},{"n":"S1","o":1,"x":1054,"y":705},{"n":"S1","o":2,"x":1040,"y":754},{"n":"S1","o":3,"x":1007,"y":774},{"n":"S1","o":4,"x":974,"y":754},{"n":"S1","o":5,"x":960,"y":705},{"n":"S1","o":6,"x":974,"y":656},{"n":"S1","o":7,"x":1007,"y":636},{"n":"S1","o":8,"x":1040,"y":656},{"n":"L1","o":1,"x":1259,"y":692},{"n":"L1","o":2,"x":1246,"y":739},{"n":"L1","o":3,"x":1215,"y":759},{"n":"L1","o":4,"x":1184,"y":739},{"n":"L1","o":5,"x":1171,"y":692},{"n":"L1","o":6,"x":1184,"y":645},{"n":"L1","o":7,"x":1215,"y":625},{"n":"L1","o":8,"x":1246,"y":645},{"n":"S4","o":1,"x":1153,"y":190},{"n":"S4","o":2,"x":1120,"y":269},{"n":"S4","o":3,"x":1040,"y":302},{"n":"S4","o":4,"x":960,"y":269},{"n":"S4","o":5,"x":927,"y":190},{"n":"S4","o":6,"x":960,"y":111},{"n":"S4","o":7,"x":1040,"y":78},{"n":"S4","o":8,"x":1120,"y":111}],
"up":[{"x":506,"y":1259,"y2":1325,"h":1357},{"x":756,"y":751,"y2":817,"h":847},{"x":1161,"y":1118,"y2":1232,"h":1263},{"x":1135,"y":785,"y2":855,"h":884}],
"down":[{"x":929,"y":746,"y2":699,"h":668},{"x":1151,"y":737,"y2":690,"h":659}],
"labels":[{"x":296,"y":1315,"t":"L3"},{"x":572,"y":814,"t":"L2"},{"x":898,"y":1205,"t":"S3"},{"x":992,"y":846,"t":"S2"},{"x":1099,"y":707,"t":"S1"},{"x":1328,"y":689,"t":"L1"},{"x":873,"y":185,"t":"S4"}]},
"data":{"name":"blue"},
"encoding":{"x":{"field":"x","type":"quantitative","scale":{"domain":[0,2047],"nice":false},"axis":null},"y":{"field":"y","type":"quantitative","scale":{"domain":[0,1600],"nice":false},"axis":null}},
"layer":[
{"data":{"name":"blue"},"mark":{"type":"point","shape":"square","filled":true,"opacity":1,"size":400,"color":"#0000ff"},"encoding":{"x":{"field":"x","type":"quantitative","scale":{"domain":[0,2047],"nice":false},"axis":{"title":"Azimuth(frequency point)","values":[0,500,1000,1500,2000],"labelPadding":84,"titleY":247,"titleBaseline":"alphabetic"}},"y":{"field":"y","type":"quantitative","scale":{"domain":[0,1600],"nice":false},"axis":{"title":"Range(frequency point)","values":[0,200,400,600,800,1000,1200,1400,1600],"labelPadding":54,"labelOffset":6,"titleX":-245}}}},
{"data":{"name":"green"},"mark":{"type":"point","shape":"square","filled":true,"opacity":1,"size":400,"color":"#00ff00"},"encoding":{"x":{"field":"x","type":"quantitative","scale":{"domain":[0,2047],"nice":false},"axis":{"orient":"top","title":null,"labels":false,"values":[0,500,1000,1500,2000]}},"y":{"field":"y","type":"quantitative","scale":{"domain":[0,1600],"nice":false},"axis":{"orient":"right","title":null,"labels":false,"values":[0,200,400,600,800,1000,1200,1400,1600]}}}},
{"data":{"name":"ellipses"},"mark":{"type":"line","interpolate":"cardinal-closed","stroke":"#ff0000","strokeWidth":4},"encoding":{"detail":{"field":"n"},"order":{"field":"o","type":"quantitative"}}},
{"data":{"name":"up"},"mark":{"type":"rule","color":"#ff0000","strokeWidth":15},"encoding":{"y2":{"field":"y2"}}},
{"data":{"name":"down"},"mark":{"type":"rule","color":"#ff0000","strokeWidth":15},"encoding":{"y2":{"field":"y2"}}},
{"data":{"name":"up"},"mark":{"type":"point","filled":true,"opacity":1,"color":"#ff0000","size":2916,"shape":"M0,-1.26L1,1.26L-1,1.26Z"},"encoding":{"y":{"field":"h","type":"quantitative"}}},
{"data":{"name":"down"},"mark":{"type":"point","filled":true,"opacity":1,"color":"#ff0000","size":2916,"shape":"M0,1.26L1,-1.26L-1,-1.26Z"},"encoding":{"y":{"field":"h","type":"quantitative"}}},
{"data":{"name":"labels"},"mark":{"type":"text","font":"Liberation Sans","fontSize":62,"color":"#111111","align":"center","baseline":"middle"},"encoding":{"text":{"field":"t"}}}
],
"resolve":{"axis":{"x":"independent","y":"independent"}}}
